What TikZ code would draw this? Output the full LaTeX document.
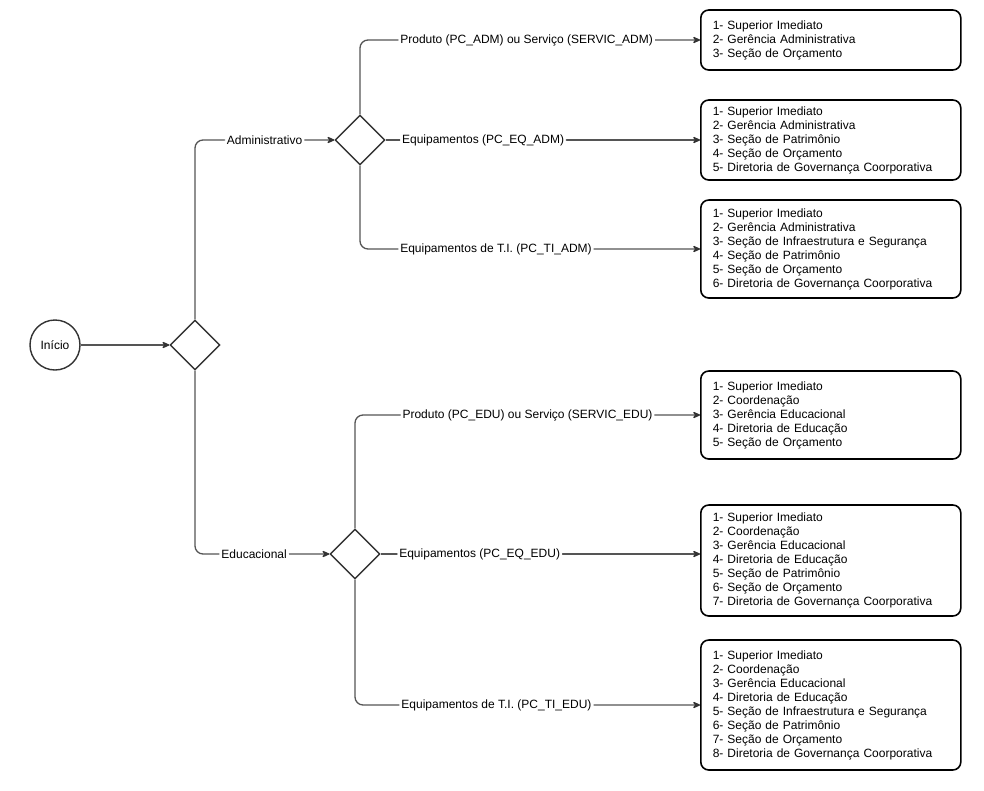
\documentclass[tikz,border=0pt]{standalone}
\usepackage{fontspec}
\setmainfont{Liberation Sans}
\usepackage{tikz}
\usetikzlibrary{
  arrows.meta,
  positioning,
  shapes.geometric
}
\definecolor{linegray}{RGB}{85,85,85}
\definecolor{shapegray}{RGB}{51,51,51}
\tikzset{
  start/.style=
  {
    circle,
    draw=shapegray,
    line width=1.4pt,
    minimum size=50pt,
    inner sep=0pt
  },
  decision/.style=
  {
    diamond,
    draw=shapegray,
    line width=1.4pt,
    minimum width=50pt,
    minimum height=50pt,
    inner sep=0pt
  },
  target/.style=
  {
    rectangle,
    rounded corners=8pt,
    draw=black,
    line width=1.6pt,
    minimum width=260pt,
    text width=236pt,
    inner xsep=12pt,
    align=left,
    anchor=west
  },
  flow/.style=
  {
    draw=linegray,
    line width=1.3pt,
    rounded corners=8pt,
    -{Stealth[length=9pt,width=8pt,inset=3pt,round,color=shapegray]}
  },
  choice/.style=
  {
    fill=white,
    inner xsep=2pt,
    inner ysep=1pt,
    text=black
  }
}

\begin{document}
\begin{tikzpicture}[x=1pt, y=-1pt, font=\fontsize{12}{14}\selectfont]
          \useasboundingbox (0,0) rectangle (984,790);
          \node[start] (inicio) at (55,345) {Início};
          \node[decision] (tipo) at (195,345) {};
          \node[decision] (adm) at (360,140) {};
          \node[decision] (edu) at (355,554) {};
          % administrativo
          \node[target, minimum height=60pt] (admprod) at (700,40) {1- Superior Imediato\\2- Gerência Administrativa\\3- Seção de Orçamento};
          \node[target, minimum height=80pt] (admeq) at (700,140) {1- Superior Imediato\\2- Gerência Administrativa\\3- Seção de Patrimônio\\4- Seção de Orçamento\\5- Diretoria de Governança Coorporativa};
          \node[target, minimum height=98pt] (admti) at (700,249) {1- Superior Imediato\\2- Gerência Administrativa\\3- Seção de Infraestrutura e Segurança\\4- Seção de Patrimônio\\5- Seção de Orçamento\\6- Diretoria de Governança Coorporativa};
          % educacional
          \node[target, minimum height=88pt] (eduprod) at (700,415) {1- Superior Imediato\\2- Coordenação\\3- Gerência Educacional\\4- Diretoria de Educação\\5- Seção de Orçamento};
          \node[target, minimum height=111pt] (edueq) at (700,560.5) {1- Superior Imediato\\2- Coordenação\\3- Gerência Educacional\\4- Diretoria de Educação\\5- Seção de Patrimônio\\6- Seção de Orçamento\\7- Diretoria de Governança Coorporativa};
          \node[target, minimum height=130pt] (eduti) at (700,705) {1- Superior Imediato\\2- Coordenação\\3- Gerência Educacional\\4- Diretoria de Educação\\5- Seção de Infraestrutura e Segurança\\6- Seção de Patrimônio\\7- Seção de Orçamento\\8- Diretoria de Governança Coorporativa};
          \draw[flow] (inicio) -- (tipo);
          \draw[flow] (tipo.north) |- (adm.west) node[choice, pos=0.75] {Administrativo};
          \draw[flow] (tipo.south) |- (edu.west) node[choice, pos=0.72] {Educacional};
          \draw[flow] (adm.north) |- (admprod.west) node[choice, pos=0.745] {Produto (PC\_ADM) ou Serviço (SERVIC\_ADM)};
          \draw[flow] (adm.east) -- (admeq.west) node[choice, pos=0.31] {Equipamentos (PC\_EQ\_ADM)};
          \draw[flow] (adm.south) |- (admti.west) node[choice, pos=0.70] {Equipamentos de T.I. (PC\_TI\_ADM)};
          \draw[flow] (edu.north) |- (eduprod.west) node[choice, pos=0.75] {Produto (PC\_EDU) ou Serviço (SERVIC\_EDU)};
          \draw[flow] (edu.east) -- (edu.east -| edueq.west) node[choice, pos=0.31] {Equipamentos (PC\_EQ\_EDU)};
          \draw[flow] (edu.south) |- (eduti.west) node[choice, pos=0.705] {Equipamentos de T.I. (PC\_TI\_EDU)};
        \end{tikzpicture}
\end{document}
